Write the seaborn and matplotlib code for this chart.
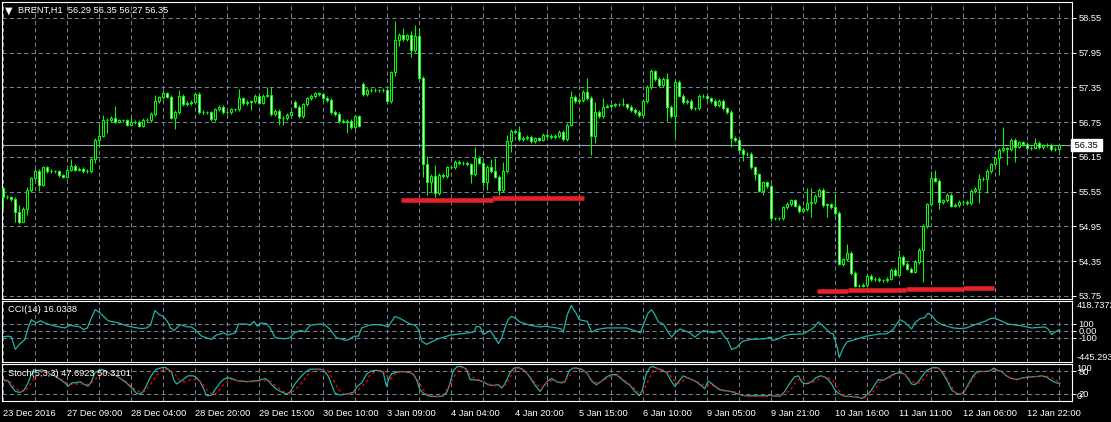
import numpy as np
import matplotlib
matplotlib.use("Agg")
import matplotlib.pyplot as plt
import seaborn as sns

# BRENT H1 close per bar (open = previous close, except listed gaps)
closes = [
    55.46, 55.45, 55.42, 55.20, 55.03, 55.25, 55.58, 55.78, 55.91, 55.67,
    55.97, 55.91, 55.90, 55.90, 55.83, 55.81, 55.93, 56.00, 55.93, 55.94,
    55.91, 55.91, 56.11, 56.45, 56.52, 56.78, 56.79, 56.82, 56.76, 56.78,
    56.78, 56.71, 56.75, 56.75, 56.69, 56.79, 56.79, 56.89, 57.11, 57.18,
    57.25, 57.19, 56.83, 56.93, 57.21, 57.06, 57.08, 57.10, 57.24, 56.93,
    56.92, 56.92, 56.80, 56.97, 57.01, 56.92, 56.92, 56.97, 56.97, 57.16,
    57.08, 57.10, 57.11, 57.21, 57.09, 57.21, 57.22, 56.89, 56.94, 56.83,
    56.82, 56.88, 56.93, 57.02, 56.86, 57.06, 57.16, 57.20, 57.25, 57.23,
    57.17, 57.13, 56.93, 56.89, 56.77, 56.76, 56.77, 56.67, 56.85, 56.69,
    57.24, 57.31, 57.31, 57.30, 57.30, 57.31, 57.12, 57.61, 58.17, 58.26,
    58.19, 58.25, 57.99, 58.24, 57.51, 56.02, 55.71, 55.82, 55.53, 55.84,
    55.82, 55.97, 55.97, 56.07, 56.04, 56.05, 56.02, 55.85, 56.14, 56.05,
    55.71, 55.98, 55.91, 55.81, 55.58, 55.91, 56.43, 56.59, 56.58, 56.46,
    56.48, 56.50, 56.42, 56.47, 56.45, 56.53, 56.52, 56.49, 56.51, 56.58,
    56.46, 56.71, 57.19, 57.12, 57.13, 57.27, 57.17, 56.52, 56.93, 56.86,
    57.02, 57.03, 57.04, 57.06, 57.06, 57.06, 57.01, 56.96, 56.93, 56.87,
    57.12, 57.36, 57.63, 57.50, 57.39, 57.50, 57.02, 56.86, 57.45, 57.21,
    57.10, 57.12, 56.99, 56.99, 57.20, 57.21, 57.16, 57.12, 57.04, 57.12,
    56.99, 56.93, 56.48, 56.44, 56.27, 56.20, 56.20, 55.97, 55.85, 55.57,
    55.71, 55.65, 55.09, 55.09, 55.09, 55.28, 55.34, 55.40, 55.31, 55.22,
    55.25, 55.35, 55.37, 55.48, 55.58, 55.32, 55.33, 55.28, 55.19, 54.30,
    54.38, 54.50, 54.15, 53.93, 53.93, 53.94, 54.10, 54.04, 54.05, 54.02,
    54.02, 54.05, 54.20, 54.12, 54.42, 54.30, 54.22, 54.17, 54.34, 54.54,
    54.96, 55.33, 55.78, 55.74, 55.37, 55.40, 55.49, 55.31, 55.32, 55.37,
    55.37, 55.35, 55.56, 55.60, 55.77, 55.77, 55.91, 56.02, 56.14, 56.27,
    56.30, 56.28, 56.44, 56.33, 56.40, 56.37, 56.30, 56.31, 56.39, 56.32,
    56.35, 56.36, 56.28, 56.29, 56.35,
]
first_open = 55.61
gap_opens = {73: 57.10, 90: 57.41}

# long wicks
wick_hi = {0: 55.64, 4: 55.32, 6: 55.63, 17: 56.11, 24: 56.70, 25: 56.87, 28: 57.03,
           32: 56.85, 38: 57.22, 40: 57.31, 44: 57.31, 49: 57.28, 59: 57.32, 66: 57.35,
           67: 57.36, 90: 57.45, 98: 58.50, 100: 58.37, 102: 58.33, 103: 58.43, 104: 58.38,
           106: 56.16, 108: 56.01, 118: 56.33, 122: 56.12, 123: 56.13, 125: 56.07, 126: 56.53,
           127: 56.64, 129: 56.69, 142: 57.29, 146: 57.52, 148: 57.10, 150: 57.17, 155: 57.17,
           162: 57.67, 166: 57.60, 168: 57.48, 201: 55.62, 202: 55.62, 208: 55.52, 211: 54.65,
           224: 54.54, 232: 55.90, 233: 55.92, 244: 55.85, 250: 56.66, 258: 56.47}
wick_lo = {0: 55.26, 3: 55.02, 4: 54.99, 5: 55.12, 6: 55.15, 9: 55.57, 23: 56.05, 24: 56.33,
           26: 56.56, 42: 56.80, 43: 56.64, 62: 56.96, 69: 56.70, 70: 56.70, 86: 56.56,
           97: 57.08, 98: 57.55, 99: 58.06, 102: 57.88, 105: 55.81, 106: 55.49, 107: 55.55,
           108: 55.46, 109: 55.49, 117: 55.70, 120: 55.65, 121: 55.58, 124: 55.49, 127: 56.23,
           147: 56.18, 148: 56.39, 166: 56.77, 168: 56.48, 182: 56.33, 185: 56.08, 188: 55.75,
           190: 55.49, 192: 55.05, 202: 55.11, 206: 55.12, 208: 55.15, 209: 54.28, 213: 53.91,
           230: 53.99, 234: 55.25, 244: 55.36, 246: 55.52, 249: 55.83, 251: 56.01, 253: 56.06}
WICK = 0.03

# support lines drawn on the chart
sup_x0 = [99.4, 122.2, 203.4, 211.1, 225.6, 240.0]
sup_x1 = [122.4, 145.2, 211.1, 225.6, 240.0, 247.7]
sup_y = [55.415, 55.436, 53.830, 53.847, 53.864, 53.880]

# CCI(14)
cci_bar = [
    0, 1.2, 2, 3, 4, 5.4, 6.2, 7, 8.3, 9.3,
    10.4, 13, 15.4, 16.7, 19.2, 20, 21, 22, 23, 24.2,
    26.2, 28.8, 31.2, 33.5, 34.6, 35.8, 36.8, 37.9, 39, 40,
    41, 41.8, 42.7, 44.2, 46, 47, 47.9, 49.6, 52, 53.2,
    55.2, 56, 58, 58.8, 60.7, 61.7, 62.7, 63.5, 64.6, 65.8,
    66.7, 68, 70.4, 71.7, 72.7, 73.8, 74.6, 75.4, 76.7, 79.2,
    80.4, 81.7, 83.3, 85.8, 86.7, 87.7, 88.8, 89.6, 91.7, 93.3,
    95, 96.2, 97.9, 99, 101.7, 103, 103.8, 104.6, 105.8, 108.3,
    111.7, 115, 117.7, 118.3, 119.2, 120, 120.8, 121.7, 122.7, 123.8,
    124.6, 125.4, 126.2, 127, 128, 129.2, 131.7, 134.2, 135.4, 136.7,
    138.3, 139.3, 140, 141, 142, 143.2, 144, 146, 147.1, 148.3,
    150.8, 155.8, 158.3, 159.3, 160.2, 161.2, 162.1, 162.9, 163.8, 165,
    166.1, 167.1, 167.9, 169.2, 171.7, 172.9, 174.2, 175, 177.5, 179.3,
    180.2, 181, 182.1, 183.3, 184.2, 185, 186.7, 190.4, 191.7, 192.5,
    193.8, 195, 196.7, 200, 201.2, 202.5, 203.8, 204.6, 205.7, 206.7,
    207.5, 208.5, 209, 210, 211, 212.5, 215.8, 219.2, 220.8, 222.5,
    223.5, 224.2, 225.4, 227.1, 227.9, 229.2, 230.4, 231.2, 232.1, 233.3,
    234.6, 237.5, 239.2, 240.8, 242.5, 245.4, 246.7, 247.7, 248.8, 251.2,
    254.2, 257.1, 260.4, 261.2, 262.1, 262.9, 264.2,
]
cci_val = [
    -88, -79, -88, -266, -196, -126, 37, 154, 107, 140,
    107, 61, 37, 75, 51, 14, 37, 177, 298, 247,
    140, 107, 61, 37, 28, 37, 75, 284, 224, 200,
    130, 37, 0, 84, 51, 51, 14, -79, -126, -65,
    -33, -65, -33, 93, 93, 75, 130, 61, 107, 98,
    37, -103, -117, -103, -33, -9, 0, -19, 75, 93,
    84, 14, -103, -140, -117, -79, -79, 37, 80, 84,
    75, 51, 200, 177, 93, 75, 14, -149, -196, -126,
    -65, -42, -19, 61, 51, -56, -33, 0, -79, -186,
    -103, 37, 154, 200, 177, 121, 75, 51, 61, 51,
    37, 28, -23, 224, 354, 247, 154, 130, -23, 14,
    37, 37, -9, -33, 107, 247, 294, 224, 121, 93,
    -9, -93, -33, 23, -33, -93, -33, 0, -33, 0,
    -79, -126, -266, -242, -186, -149, -126, -117, -93, -140,
    -117, -79, -56, -47, -9, 37, 121, 84, 23, -33,
    -47, -242, -382, -242, -158, -135, -79, -47, -47, 14,
    107, 154, 117, 23, 107, 168, 186, 247, 214, 130,
    84, 37, 28, 37, 75, 130, 168, 177, 154, 93,
    70, 37, 51, 23, -56, -23, 16,
]
cci_levels = [100, 0, -100]
cci_range = (-445.293, 418.7372)

# Stochastic(5,3,3): main line and signal line
k_bar = [
    0, 1.2, 2, 3, 4.2, 5.2, 6.2, 7, 8, 9.6,
    10.8, 11.7, 12.9, 14.2, 15.4, 16.2, 17.1, 17.9, 19.2, 20.4,
    21.2, 22.1, 22.9, 23.8, 24.6, 25.8, 27.1, 28.3, 29.6, 30.8,
    32.1, 33.3, 34.2, 35, 35.8, 36.7, 37.5, 38.3, 39.2, 40.4,
    41.2, 42.1, 42.7, 43.3, 44.2, 45, 46.2, 47.5, 48.3, 49.2,
    50, 50.7, 51.2, 52.1, 52.9, 54.2, 55, 56, 57.1, 58.3,
    59.6, 60.8, 62.5, 63.8, 64.6, 65.4, 66.2, 67.1, 68.3, 69.6,
    70.8, 71.7, 72.9, 74.2, 75.4, 76.7, 78, 79.2, 80, 81.2,
    82.1, 82.9, 84.2, 85.4, 86.7, 87.5, 88.5, 89.6, 90.8, 91.7,
    92.9, 94.2, 95, 95.8, 96.5, 97.1, 99.2, 101.7, 102.5, 103.3,
    104.2, 105, 106.2, 107.5, 108.8, 110, 111, 111.7, 112.5, 113.5,
    114.6, 115.8, 116.7, 118.8, 120, 121.2, 122.5, 123.8, 124.6, 125.4,
    126.7, 127.7, 128.8, 130, 131, 132, 133, 134.2, 135.2, 136.2,
    137.1, 138.3, 139.6, 140.4, 141.5, 142.5, 143.3, 144.6, 145.8, 147.1,
    148.3, 149.6, 150.8, 151.8, 153.2, 154.2, 155.4, 156.7, 157.9, 159,
    159.8, 160.7, 161.7, 162.5, 163.3, 164.6, 165.8, 167.1, 167.9, 168.8,
    170, 171, 172.1, 173.3, 174.6, 175.4, 176.2, 177.5, 178.8, 180,
    181.2, 182.5, 183.8, 185.4, 187.9, 190.4, 191.7, 193, 194.2, 195.4,
    196.7, 197.8, 198.8, 199.6, 200.4, 201.2, 202.1, 203.2, 204.3, 205.4,
    206.2, 207.1, 207.9, 208.8, 210, 211.2, 212.5, 213.8, 214.6, 215.4,
    216.2, 217.1, 217.9, 218.8, 220, 220.8, 222.1, 222.9, 224.2, 225.4,
    226.2, 227.1, 227.9, 228.8, 229.8, 230.8, 232.1, 232.9, 233.8, 234.6,
    235.8, 237.1, 238.2, 239.2, 240.2, 241.2, 242.5, 243.5, 245.8, 246.8,
    247.7, 248.5, 249.6, 250.8, 252.1, 253.3, 255, 256.7, 258.3, 259.6,
    260.8, 262.1, 263.3, 264.2,
]
k_val = [
    58, 54, 40, 26, 23, 30, 49, 72, 82, 84,
    80, 72, 68, 58, 49, 40, 49, 49, 52, 44,
    40, 54, 77, 80, 86, 80, 72, 68, 58, 49,
    35, 21, 19, 26, 42, 63, 77, 86, 89, 91,
    86, 77, 55, 46, 52, 58, 68, 68, 63, 52,
    35, 16, 14, 16, 30, 49, 58, 63, 61, 55,
    54, 52, 54, 55, 58, 61, 55, 44, 32, 24,
    19, 24, 46, 63, 77, 86, 86, 86, 84, 68,
    44, 21, 16, 18, 21, 23, 40, 49, 72, 80,
    83, 82, 77, 40, 63, 74, 80, 77, 72, 58,
    30, 21, 14, 12, 12, 14, 26, 49, 82, 93,
    93, 86, 58, 56, 52, 44, 42, 44, 35, 46,
    77, 89, 91, 84, 74, 58, 42, 26, 42, 55,
    61, 52, 49, 52, 82, 89, 89, 86, 77, 54,
    44, 54, 65, 70, 72, 63, 52, 42, 26, 14,
    30, 72, 91, 93, 89, 84, 77, 52, 40, 52,
    68, 63, 58, 52, 40, 33, 54, 44, 32, 28,
    27, 24, 18, 14, 14, 14, 16, 13, 13, 26,
    49, 65, 68, 52, 47, 47, 52, 63, 68, 65,
    58, 46, 30, 21, 14, 12, 12, 10, 7, 12,
    19, 30, 44, 58, 56, 61, 69, 74, 77, 72,
    61, 46, 44, 52, 68, 82, 89, 91, 89, 80,
    58, 30, 21, 18, 24, 44, 68, 80, 80, 82,
    89, 83, 80, 68, 61, 58, 63, 65, 66, 68,
    65, 55, 49, 47.69,
]
d_bar = [
    0, 1.7, 2.9, 4.2, 5.4, 6.7, 7.5, 8.8, 10, 11.7,
    13.3, 15.4, 16.7, 18.3, 20, 21.7, 22.9, 24.2, 25.8, 28.3,
    30.8, 32.5, 34.2, 35.4, 36.7, 37.9, 39.2, 40.4, 41.7, 42.9,
    44.2, 45.4, 47.1, 48.8, 50, 51.2, 52.5, 53.8, 55, 56.7,
    59.2, 62.5, 65, 66.7, 68.3, 70, 71.7, 72.9, 74.6, 76.2,
    77.9, 79.6, 81.2, 82.5, 83.8, 85.4, 87.5, 89.2, 90.8, 91.7,
    93.3, 95, 96.7, 97.9, 99.6, 101.2, 102.5, 103.8, 105, 106.2,
    108.3, 110, 111.2, 112.5, 113.8, 115, 116.2, 117.5, 118.8, 120,
    121.7, 123.3, 124.6, 125.8, 127.1, 128.3, 129.6, 130.8, 132.1, 133.3,
    134.6, 135.8, 137.1, 138.3, 140, 141.2, 142.5, 143.8, 145, 146.2,
    147.5, 148.8, 150, 151.2, 152.5, 153.8, 155, 156.2, 157.5, 158.8,
    160, 161.2, 162.5, 163.8, 165, 166.2, 167.5, 168.8, 170, 171.2,
    172.5, 174.2, 175.4, 176.7, 178.3, 180, 181.7, 183.3, 184.2, 186.7,
    189.2, 191.7, 194.2, 195.8, 197.1, 198.3, 199.6, 200.8, 202.1, 203.3,
    205, 206.2, 207.5, 208.8, 210, 211.7, 213.3, 215, 216.7, 217.9,
    219.2, 220.4, 221.7, 222.9, 224.2, 225.4, 226.7, 227.9, 229.2, 230.4,
    231.7, 232.9, 234.2, 235.4, 236.7, 237.9, 239.2, 240.4, 241.7, 242.9,
    244.2, 245.4, 246.7, 247.9, 249.2, 250.4, 251.7, 252.9, 254.2, 255.8,
    257.5, 259.2, 260.8, 262.5, 264.2,
]
d_val = [
    55, 52, 35, 26, 26, 44, 58, 72, 80, 77,
    68, 52, 44, 46, 46, 44, 58, 72, 77, 68,
    52, 35, 24, 26, 44, 63, 80, 86, 84, 72,
    55, 52, 58, 58, 44, 26, 16, 26, 44, 58,
    55, 52, 55, 54, 40, 26, 19, 30, 49, 72,
    83, 86, 80, 58, 30, 18, 21, 35, 52, 72,
    80, 80, 58, 72, 80, 79, 74, 54, 30, 16,
    12, 18, 35, 63, 83, 93, 77, 63, 58, 52,
    44, 40, 42, 44, 72, 89, 89, 77, 61, 44,
    35, 49, 55, 54, 51, 63, 80, 86, 83, 72,
    52, 49, 55, 63, 68, 70, 58, 49, 37, 23,
    26, 54, 83, 89, 84, 77, 58, 46, 55, 63,
    57, 49, 40, 44, 37, 30, 27, 24, 18, 12,
    12, 13, 14, 21, 35, 55, 61, 52, 49, 55,
    65, 63, 54, 30, 16, 12, 12, 7, 16, 30,
    52, 58, 63, 72, 74, 72, 58, 49, 49, 63,
    80, 89, 86, 72, 46, 24, 19, 26, 49, 68,
    80, 79, 82, 84, 80, 72, 63, 58, 60, 63,
    65, 67, 67, 61, 50.31,
]
stoch_levels = [80, 20]

time_labels = ["23 Dec 2016", "27 Dec 09:00", "28 Dec 04:00", "28 Dec 20:00",
               "29 Dec 15:00", "30 Dec 10:00", "3 Jan 09:00", "4 Jan 04:00",
               "4 Jan 20:00", "5 Jan 15:00", "6 Jan 10:00", "9 Jan 05:00",
               "9 Jan 21:00", "10 Jan 16:00", "11 Jan 11:00", "12 Jan 06:00",
               "12 Jan 22:00"]
price_ticks = [53.75, 54.35, 54.95, 55.55, 56.15, 56.75, 57.35, 57.95, 58.55]
last_price = 56.35

GREEN = "#00ff00"
GRID = "#778899"
TEAL = "#20b2aa"
FS = 6.7

sns.set_theme(style="dark", rc={
    "figure.facecolor": "black", "axes.facecolor": "black",
    "axes.edgecolor": "white", "axes.linewidth": 0.8,
    "text.color": "white", "xtick.color": "white", "ytick.color": "white",
    "lines.scale_dashes": False,
})
plt.rcParams["font.family"] = ["Liberation Sans", "DejaVu Sans"]

W, H = 1111, 422
fig = plt.figure(figsize=(W / 100, H / 100), dpi=100)


def panel(top, bottom):
    return fig.add_axes([2 / W, 1 - bottom / H, 1070 / W, (bottom - top) / H])


ax = panel(2, 299)
ax_cci = panel(301, 362)
ax_st = panel(364, 401)

n = len(closes)
bars = np.arange(n)
c = np.array(closes)
o = np.r_[first_open, c[:-1]]
for k, v in gap_opens.items():
    o[k] = v
top = np.maximum(o, c)
bot = np.minimum(o, c)
hi = top + WICK
lo = bot - WICK
for k, v in wick_hi.items():
    hi[k] = max(v, top[k])
for k, v in wick_lo.items():
    lo[k] = min(v, bot[k])

xlim = (-0.33, 267.2)
for a in (ax, ax_cci, ax_st):
    a.set_xlim(*xlim)
    a.set_axisbelow(True)
    a.set_xticks(np.arange(0, n, 16))
    a.set_xticks(np.arange(8, n, 16), minor=True)
    a.grid(True, which="both", axis="x", color=GRID, lw=0.7, ls=(0, (3, 2.2)))
    a.grid(True, which="major", axis="y", color=GRID, lw=0.7, ls=(0, (3, 2.2)))
    a.yaxis.tick_right()
    a.tick_params(axis="y", which="both", length=3, width=0.7, pad=1.5,
                  labelsize=FS, colors="white")
    a.tick_params(axis="x", which="minor", length=0)
    for s in a.spines.values():
        s.set_color("white")

# candles
ax.vlines(bars, lo, hi, color=GREEN, lw=0.75, zorder=2)
bull = c >= o
ax.bar(bars[bull], (top - bot)[bull], bottom=bot[bull], width=0.55,
       color="black", edgecolor=GREEN, linewidth=0.75, zorder=3)
ax.bar(bars[~bull], (top - bot)[~bull], bottom=bot[~bull], width=0.55,
       color="white", edgecolor=GREEN, linewidth=0.75, zorder=3)
ax.hlines(sup_y, sup_x0, sup_x1, color="#e8202a", lw=3.3, zorder=4)
ax.axhline(last_price, color="#a0a4a8", lw=0.8, zorder=1)
ax.set_ylim(53.697, 58.826)
ax.set_yticks(price_ticks)
ax.set_yticklabels([f"{p:.2f}" for p in price_ticks])
ax.tick_params(axis="x", which="both", length=0, labelbottom=False)
ax.text(1.0, last_price, " 56.35 ", transform=ax.get_yaxis_transform(),
        ha="left", va="center", fontsize=FS, color="black", zorder=6, clip_on=False,
        bbox=dict(boxstyle="square,pad=0.15", fc="white", ec="white"))

# CCI
sns.lineplot(x=cci_bar, y=cci_val, ax=ax_cci, color=TEAL, linewidth=0.9,
             estimator=None, sort=False, legend=False)
ax_cci.set_ylim(*cci_range)
ax_cci.set_yticks(cci_levels)
ax_cci.set_yticklabels(["100", "0.00", "-100"])
ax_cci.tick_params(axis="x", which="both", length=0, labelbottom=False)
ytr = ax_cci.get_yaxis_transform()
ax_cci.text(1.004, cci_range[1], "418.7372", transform=ytr, ha="left", va="top",
            fontsize=FS, clip_on=False)
ax_cci.text(1.004, cci_range[0], "-445.293", transform=ytr, ha="left", va="bottom",
            fontsize=FS, clip_on=False)
ax_cci.set_xlabel("")
ax_cci.set_ylabel("")

# Stochastic
sns.lineplot(x=k_bar, y=k_val, ax=ax_st, color=TEAL, linewidth=0.9,
             estimator=None, sort=False, legend=False)
sns.lineplot(x=d_bar, y=d_val, ax=ax_st, color="red", linewidth=0.9,
             linestyle=(0, (2, 2)), estimator=None, sort=False, legend=False)
ax_st.set_ylim(0, 100)
ax_st.set_yticks(stoch_levels)
ax_st.set_yticklabels(["80", "20"])
ytr = ax_st.get_yaxis_transform()
ax_st.text(1.004, 100, "100", transform=ytr, ha="left", va="top", fontsize=FS, clip_on=False)
ax_st.text(1.004, 0, "0", transform=ytr, ha="left", va="bottom", fontsize=FS, clip_on=False)
ax_st.set_xticklabels(time_labels)
ax_st.tick_params(axis="x", which="major", length=4, width=0.8, pad=1.5,
                  labelsize=FS, colors="white")
plt.setp(ax_st.get_xticklabels(), ha="left")
ax_st.set_xlabel("")
ax_st.set_ylabel("")

# titles
fig.text(5 / W, 1 - 10.5 / H, "\u25bc", fontsize=7, va="center", ha="left",
         family=["DejaVu Sans"])
fig.text(18 / W, 1 - 10.5 / H, "BRENT,H1  56.29 56.35 56.27 56.35", fontsize=FS,
         va="center", ha="left")
fig.text(8 / W, 1 - 310 / H, "CCI(14) 16.0338", fontsize=FS, va="center", ha="left")
fig.text(8 / W, 1 - 374 / H, "Stoch(5,3,3) 47.6923 50.3101", fontsize=FS,
         va="center", ha="left")

fig.savefig("out.png", dpi=100, facecolor="black")
